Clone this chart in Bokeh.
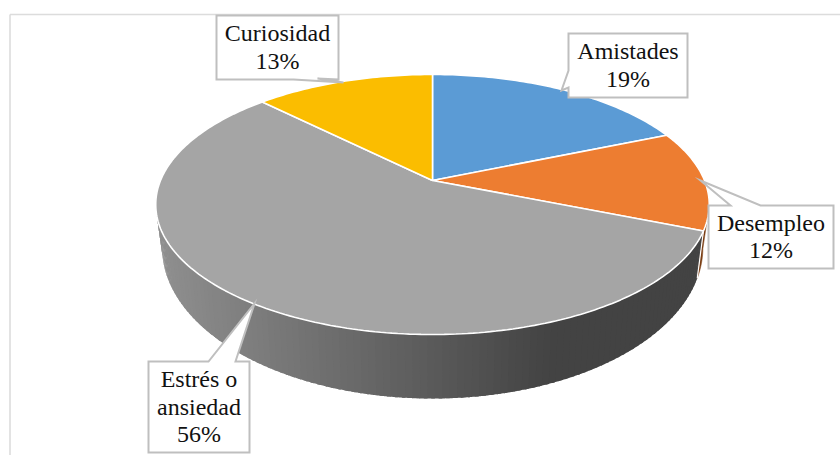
import math
from bokeh.plotting import figure
from bokeh.models import Range1d
from bokeh.core.properties import value
from bokeh.embed import file_html
from bokeh.resources import INLINE

categories = ["Amistades", "Desempleo", "Estrés o ansiedad", "Curiosidad"]
shares = [18.7, 12.4, 56.4, 12.5]
colors = ["#5B9BD5", "#ED7D31", "#A5A5A5", "#FBBD00"]
label_lines = [["Amistades", "19%"], ["Desempleo", "12%"], ["Estrés o", "ansiedad", "56%"], ["Curiosidad", "13%"]]

# callout geometry in page pixels: box (left, top, right, bottom), tail (base a, tip, base b), inserted in box outline
boxes = [(568, 33, 687, 97), (708, 205, 833, 268), (148, 361, 249, 452), (216, 15, 338, 79)]
tails = [
    ("left", [(568, 87), (561, 90), (568, 70)]),
    ("top", [(730, 205), (700, 180), (760, 205)]),
    ("top", [(208, 361), (254, 303), (235, 361)]),
    ("bottom", [(317, 78), (343, 82), (293, 79)]),
]

W, H = 840, 455
p = figure(width=W, height=H, output_backend="svg", toolbar_location=None,
           x_range=Range1d(0, W), y_range=Range1d(H, 0),
           min_border=0, outline_line_color=None, background_fill_color="white")
p.axis.visible = False
p.grid.visible = False

CX, CY, R, S, K = 432, 180, 272, 125.6, 0.1846
XS, DY_BOTTOM, YS = 0.977, 398, 1.16


def rim(t):
    a = math.radians(t)
    w = 1 + K * math.cos(a)
    return CX + R * math.sin(a) / w, CY - S * math.cos(a) / w


def low(t):
    x, y = rim(t)
    return CX + XS * (x - CX), DY_BOTTOM + YS * (y - 334)


def shade(x):
    f = min(1, max(0, (x - 160) / (555 - 160)))
    v = int(round(0x8F + (0x43 - 0x8F) * f))
    return "#%02x%02x%02x" % (v, v, v)


total = sum(shares)
angles = [0]
for s in shares:
    angles.append(angles[-1] + 360 * s / total)

# frame
p.line([9.5, 9.5], [14, 455], line_color="#dcdcdc", line_width=1.6)
p.line([9.5, 840], [14, 14], line_color="#dcdcdc", line_width=1.6)

# side wall of the large slice, in overlapping strips for the shading
gray_start, gray_end = angles[2], 268
steps = 120
wall_x, wall_y, wall_c = [], [], []
for i in range(steps):
    run = [gray_start + (gray_end - gray_start) * (i + j / 6) / steps for j in range(10)]
    wall_x.append([rim(q)[0] for q in run] + [low(q)[0] for q in reversed(run)])
    wall_y.append([rim(q)[1] for q in run] + [low(q)[1] for q in reversed(run)])
    wall_c.append(shade(rim(run[0])[0]))
p.patches(wall_x, wall_y, fill_color=wall_c, line_color=None)

# side wall sliver of the orange slice
ot = [angles[2] - i * (angles[2] - 101) / 10 for i in range(11)]
ox = [rim(q)[0] for q in ot] + [low(q)[0] for q in reversed(ot)]
oy = [rim(q)[1] for q in ot] + [low(q)[1] for q in reversed(ot)]
p.patch(ox, oy, fill_color="#7A3E14", line_color="#7A3E14", line_width=0.5)
ca, cb = rim(angles[2]), low(angles[2])
p.line([ca[0], cb[0]], [ca[1], cb[1]], line_color="white", line_width=1.2)

# top faces
for i, col in enumerate(colors):
    n = max(8, int(angles[i + 1] - angles[i]))
    pts = [rim(angles[i] + (angles[i + 1] - angles[i]) * j / n) for j in range(n + 1)]
    p.patch([CX] + [q[0] for q in pts], [CY] + [q[1] for q in pts],
            fill_color=col, line_color="white", line_width=1.6)

# callouts
for (l, tp, r, b), (side, tail) in zip(boxes, tails):
    if side == "left":
        poly = [(l, tp), (r, tp), (r, b), (l, b)] + tail
    elif side == "top":
        poly = [(l, tp)] + tail + [(r, tp), (r, b), (l, b)]
    else:
        poly = [(l, tp), (r, tp), (r, b)] + tail + [(l, b)]
    p.patch([q[0] for q in poly], [q[1] for q in poly], fill_color="white",
            line_color="#BFBFBF", line_width=2, line_join="miter")

# label texts
LH = 27.6
tx, ty, tt = [], [], []
for (l, tp, r, b), lines in zip(boxes, label_lines):
    top = (tp + b) / 2 - LH * len(lines) / 2
    for i, s in enumerate(lines):
        tx.append((l + r) / 2)
        ty.append(top + LH * (i + 0.5) - 0.5)
        tt.append(s)
p.text(tx, ty, text=tt, text_font=value("Liberation Serif"), text_font_size="24px",
       text_color="#111111", text_align="center", text_baseline="middle")

open("out.html", "w").write(file_html(p, INLINE))
